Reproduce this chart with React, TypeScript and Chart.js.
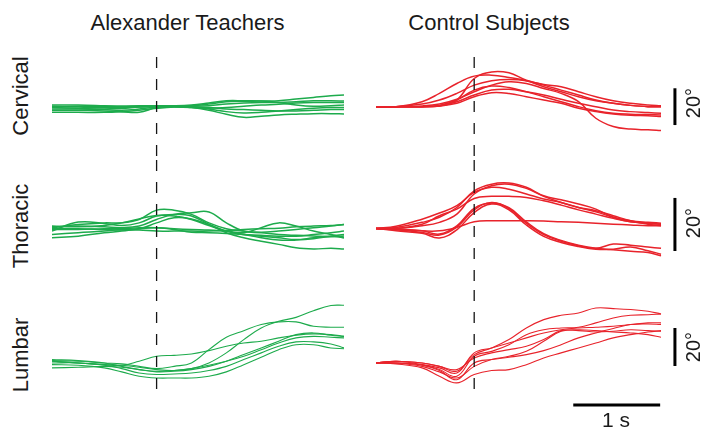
import React, { useEffect, useRef } from "react";
import { Chart, registerables } from "chart.js";

Chart.register(...registerables);

// time (s) relative to the event marker
const leftTimes = [-1.2, -0.9, -0.6, -0.4, -0.2, 0, 0.2, 0.4, 0.6, 0.8, 1.0, 1.2, 1.4, 1.6, 1.8, 2.0, 2.15];
const rightTimes = [-1.13, -0.9, -0.6, -0.4, -0.2, 0, 0.2, 0.4, 0.6, 0.8, 1.0, 1.2, 1.4, 1.6, 1.8, 2.0, 2.15];

// angles (degrees) relative to start
const alexCervical = [
  [0.9, 0.9, 0.5, 0.2, 0.5, 0.5, 0.5, 0.5, 1.4, 2.7, 2.9, 3.1, 3.2, 4.1, 5.0, 5.9, 6.3],
  [0.2, -0.2, -0.5, -0.5, -0.2, 0.2, 0.2, 0.2, 0.5, 1.4, 2.0, 2.3, 2.3, 2.7, 3.2, 3.2, 3.1],
  [-0.5, -0.9, -1.3, -0.9, -0.2, 0.2, -0.2, -0.5, -0.9, -0.5, 0.2, 0.9, 1.3, 2.0, 2.3, 2.3, 2.3],
  [-1.3, -1.3, -1.6, -2.0, -1.3, -0.2, 0.2, -0.2, -1.3, -2.7, -3.4, -3.1, -2.3, -1.6, -0.9, -0.5, -0.5],
  [-2.0, -2.0, -2.3, -2.7, -3.1, -0.5, 0.2, -0.5, -2.0, -4.1, -5.8, -5.2, -4.5, -4.1, -3.8, -3.8, -4.0],
  [-3.1, -3.1, -3.1, -2.7, -2.0, -0.9, -0.2, -0.2, -0.5, -1.3, -1.6, -2.0, -2.3, -2.3, -2.0, -1.6, -1.6],
  [-0.2, 0.2, 0.2, 0.2, 0.2, 0.5, 0.5, 0.9, 2.0, 3.2, 3.2, 3.1, 2.3, 0.9, 0.2, 0.5, 0.9],
];
const controlCervical = [
  [0, 0, 2.7, 7.2, 12.6, 16.6, 17.1, 15.9, 14.1, 10.8, 8.1, 5.4, 3.2, 1.8, 0.7, 0, 0],
  [0, 0, 0, 0.4, 3.6, 15.3, 18.9, 18.4, 14.4, 12.1, 10.8, 8.1, 5.4, 3.2, 1.8, 0.9, 0.5],
  [0, 0, 1.4, 3.6, 7.2, 11.7, 14.1, 14.8, 14.1, 11.7, 9.0, 6.3, 3.6, 1.8, 0.7, 0, 0],
  [0, 0, 0, 0.5, 2.7, 6.3, 9.0, 9.4, 8.1, 6.3, 4.0, 1.8, 0, -1.8, -2.7, -3.2, -3.6],
  [0, 0, 0, 0.4, 1.8, 5.4, 7.6, 7.2, 5.4, 3.6, 1.8, -0.9, -2.7, -4.0, -4.7, -5.0, -5.4],
  [0, 0, 0.4, 1.4, 4.0, 8.1, 11.7, 13.5, 12.6, 9.9, 7.2, 2.7, -6.3, -10.8, -12.2, -12.6, -13.0],
  [0, 0, 0, 0.7, 3.6, 9.0, 11.2, 10.4, 8.1, 5.4, 2.7, 0, -2.2, -3.6, -4.1, -4.3, -4.5],
];
const alexThoracic = [
  [0.3, 1.5, 2.1, 2.1, 3.4, 6.9, 6.9, 5.3, 2.1, -0.1, -1.0, -1.4, -1.0, -0.4, 0.3, 0.9, 1.5],
  [-1.0, 2.4, 1.9, 1.1, 2.1, 4.7, 5.3, 4.7, 1.5, -1.6, -3.5, -4.8, -6.0, -7.3, -7.7, -7.5, -7.7],
  [0.6, 0.9, 0.6, 0.3, 0.9, 3.4, 5.3, 5.9, 6.2, 2.1, -1.0, -1.6, -2.3, -2.6, -2.8, -3.1, -2.8],
  [-0.4, -0.4, -0.1, -0.1, 0.3, 0.3, -0.1, -0.4, -0.6, -1.0, -1.6, 0.3, 2.1, 0.9, -1.0, -2.3, -3.5],
  [-2.3, -1.6, -1.0, -0.4, -0.1, 2.1, 4.0, 3.6, 1.5, -1.0, -2.3, -2.9, -3.5, -4.2, -3.5, -2.9, -3.5],
  [-0.1, -0.1, -0.4, -0.6, -0.6, -1.0, -1.0, -1.0, -1.0, -0.8, -0.4, -0.1, 0.1, 0.6, 0.9, 1.1, 1.5],
  [-3.5, -2.9, -1.6, -1.0, -0.1, 0.3, -0.4, -1.4, -1.6, -1.9, -2.3, -2.6, -2.9, -2.9, -2.3, -1.6, -1.0],
  [0.9, 0.6, 1.1, 2.1, 3.6, 4.9, 4.7, 3.4, 1.1, -1.0, -2.3, -3.5, -4.4, -4.4, -3.9, -2.9, -2.3],
];
const controlThoracic = [
  [0, 0.4, 2.3, 4.2, 7.9, 14.2, 16.7, 17.1, 15.5, 12.3, 10.8, 9.2, 7.3, 4.2, 2.5, 2.0, 1.6],
  [0, 0, 1.0, 2.3, 5.4, 13.0, 16.1, 16.7, 15.1, 12.1, 9.8, 7.9, 6.7, 4.8, 2.9, 1.6, 1.0],
  [0, 0, 1.6, 4.8, 7.3, 11.3, 12.1, 12.1, 11.7, 10.4, 8.8, 7.0, 5.4, 3.8, 2.5, 2.0, 1.6],
  [0, -0.3, -0.9, -0.9, 0.4, 2.5, 2.9, 2.9, 2.9, 2.8, 2.5, 2.3, 2.0, 1.6, 1.3, 1.0, 1.0],
  [0, -0.5, -1.5, -2.5, 0.5, 7.0, 9.8, 7.5, 2.0, -2.3, -4.8, -6.5, -7.5, -5.9, -6.3, -7.0, -7.5],
  [0, -0.9, -1.8, -3.6, -0.5, 6.0, 9.2, 7.0, 1.3, -3.0, -5.3, -6.8, -7.8, -7.8, -7.0, -8.4, -9.7],
  [0, -0.3, -0.9, -2.1, 1.0, 7.6, 9.6, 7.8, 2.5, -2.0, -4.5, -6.3, -7.5, -8.0, -8.6, -9.1, -10.3],
  [0, 0.8, 3.5, 5.8, 8.6, 13.6, 15.5, 14.8, 13.0, 11.1, 9.8, 7.9, 6.3, 4.2, 2.9, 2.3, 2.0],
];
const alexLumbar = [
  [0.9, 0, -0.9, -1.2, -2.3, -3.5, -4.0, -3.0, 0, 5.3, 12.3, 18.4, 21.9, 24.0, 27.5, 30.2, 30.4],
  [1.2, 0.9, 0, -0.5, -1.8, -3.0, -1.8, 0, 7.0, 13.5, 17.0, 20.2, 21.6, 21.6, 19.3, 18.8, 18.8],
  [0, 0, -0.9, -1.2, 0.9, 3.5, 4.0, 4.7, 6.5, 8.8, 10.5, 11.4, 13.2, 14.6, 15.3, 14.9, 14.0],
  [1.8, 1.2, 0, -1.8, -3.5, -4.7, -4.4, -3.5, -1.8, 0.9, 4.4, 7.9, 11.4, 14.9, 15.8, 14.6, 14.0],
  [-0.9, -1.2, -2.6, -4.7, -7.0, -7.9, -7.9, -7.9, -7.0, -4.7, -0.9, 3.0, 7.0, 9.6, 9.6, 7.9, 7.5],
  [0.9, 0, -1.2, -3.0, -5.3, -6.1, -5.8, -5.3, -4.0, -1.8, 1.8, 5.3, 8.8, 11.1, 11.1, 10.0, 7.9],
  [-2.6, -2.3, -1.8, -2.3, -3.5, -4.4, -4.0, -3.0, -1.2, 0.9, 3.5, 7.0, 10.5, 13.2, 14.0, 13.5, 13.2],
];
const controlLumbar = [
  [0, 0.9, 0, -1.8, -4.4, 4.4, 7.9, 12.3, 18.4, 22.8, 25.1, 26.3, 28.9, 28.6, 28.1, 27.2, 25.8],
  [0, 0.9, -0.9, -3.5, -7.0, 3.5, 6.1, 9.6, 14.9, 17.5, 18.4, 18.8, 21.1, 23.7, 25.1, 25.4, 25.8],
  [0, 0, -0.9, -2.6, -5.3, 5.3, 7.9, 10.5, 13.2, 15.8, 17.5, 18.4, 18.8, 19.3, 20.2, 21.1, 21.1],
  [0, -0.5, -2.6, -7.0, -10.5, -6.1, -4.0, -3.5, -0.9, 2.6, 5.3, 7.9, 10.5, 13.2, 14.9, 16.3, 17.0],
  [0, 0, -1.8, -4.7, -7.9, -1.8, 1.8, 3.5, 6.1, 11.4, 16.7, 17.5, 17.0, 16.3, 15.8, 14.9, 13.5],
  [0, 0.9, 0, -1.8, -3.5, 2.6, 5.3, 7.0, 8.8, 12.3, 17.0, 17.0, 16.3, 16.7, 17.5, 17.0, 16.7],
  [0, 0, -1.2, -4.0, -8.8, 0, 1.8, 3.0, 4.4, 6.5, 9.6, 13.2, 15.8, 18.1, 20.2, 20.5, 20.2],
];

// axis ranges per row (degrees)
const cervicalRange = [-29, 27];
const thoracicRange = [-23.2, 25.8];
const lumbarRange = [-37.4, 38.4];
// event marker extent per row (degrees)
const cervicalMarker = [-29, 27];
const thoracicMarker = [-23.2, 25.8];
const lumbarMarker = [-19.5, 38.4];
// 20° scale bars per row (degrees), at time barTime
const barTime = 2.31;
const cervicalBar = [-10, 10];
const thoracicBar = [-8.5, 11.5];
const lumbarBar = [-1.6, 18.4];
// 1 s time scale bar
const timeBar = [1.14, 2.14];
const timeBarLevel = -22.1;

const GREEN = "#1dab4c";
const RED = "#e8232b";
const INK = "#1a1a1a";
const FONT = '"Liberation Sans", Arial, Helvetica, sans-serif';

type Extra = { points: { x: number; y: number }[]; width: number };

function Panel(props: {
  left: number; top: number; width: number; height: number;
  times: number[]; xMin: number; xMax: number; range: number[];
  series: number[][]; color: string; lineWidth: number; marker: number[];
  extras?: Extra[];
}) {
  const ref = useRef<HTMLCanvasElement | null>(null);
  useEffect(() => {
    if (!ref.current) return;
    const datasets: any[] = [
      {
        data: [{ x: 0, y: props.marker[1] }, { x: 0, y: props.marker[0] }],
        borderColor: "#151515", borderWidth: 1.3, borderDash: [11, 11], tension: 0,
      },
      ...(props.extras || []).map((e) => ({
        data: e.points, borderColor: "#000", borderWidth: e.width, tension: 0, borderCapStyle: "butt",
      })),
      ...props.series.map((vals) => ({
        data: vals.map((v, i) => ({ x: props.times[i], y: v })),
        borderColor: props.color, borderWidth: props.lineWidth, tension: 0.4,
      })),
    ];
    const chart = new Chart(ref.current, {
      type: "line",
      data: { datasets },
      options: {
        responsive: false,
        animation: false,
        events: [],
        layout: { padding: 0 },
        elements: { point: { radius: 0 } },
        plugins: { legend: { display: false }, tooltip: { enabled: false } },
        scales: {
          x: { type: "linear", display: false, min: props.xMin, max: props.xMax },
          y: { type: "linear", display: false, min: props.range[0], max: props.range[1] },
        },
      },
    });
    return () => chart.destroy();
  }, []);
  return (
    <canvas
      ref={ref}
      width={props.width}
      height={props.height}
      style={{ position: "absolute", left: props.left, top: props.top, display: "block" }}
    />
  );
}

function Label(props: { text: string; x: number; y: number; size: number; rotate?: boolean }) {
  return (
    <div
      style={{
        position: "absolute", left: props.x, top: props.y,
        transform: `translate(-50%, -50%)${props.rotate ? " rotate(-90deg)" : ""}`,
        fontFamily: FONT, fontSize: props.size, color: INK, whiteSpace: "nowrap", lineHeight: "normal",
      }}
    >
      {props.text}
    </div>
  );
}

const bar = (r: number[]): Extra => ({ points: [{ x: barTime, y: r[0] }, { x: barTime, y: r[1] }], width: 3 });

export default function App() {
  const L = { left: 52, width: 292, times: leftTimes, xMin: -1.2, xMax: 2.15, color: GREEN };
  const R = { left: 376, width: 325, times: rightTimes, xMin: -1.13, xMax: 2.61, color: RED };
  return (
    <div style={{ position: "fixed", left: 0, top: 0, width: 701, height: 434, background: "#fff", overflow: "hidden" }}>
      <Panel {...L} top={57} height={103} range={cervicalRange} series={alexCervical} lineWidth={1.5} marker={cervicalMarker} />
      <Panel {...L} top={160} height={130} range={thoracicRange} series={alexThoracic} lineWidth={1.5} marker={thoracicMarker} />
      <Panel {...L} top={290} height={144} range={lumbarRange} series={alexLumbar} lineWidth={1.1} marker={lumbarMarker} />
      <Panel {...R} top={57} height={103} range={cervicalRange} series={controlCervical} lineWidth={1.5} marker={cervicalMarker} extras={[bar(cervicalBar)]} />
      <Panel {...R} top={160} height={130} range={thoracicRange} series={controlThoracic} lineWidth={1.5} marker={thoracicMarker} extras={[bar(thoracicBar)]} />
      <Panel {...R} top={290} height={144} range={lumbarRange} series={controlLumbar} lineWidth={1.1} marker={lumbarMarker}
        extras={[bar(lumbarBar), { points: [{ x: timeBar[0], y: timeBarLevel }, { x: timeBar[1], y: timeBarLevel }], width: 3 }]} />

      <Label text="Alexander Teachers" x={187.5} y={23} size={22} />
      <Label text="Control Subjects" x={489} y={23} size={22} />
      <Label text="Cervical" x={20.5} y={96} size={22} rotate />
      <Label text="Thoracic" x={20.5} y={226} size={22} rotate />
      <Label text="Lumbar" x={20.5} y={355} size={22} rotate />
      <Label text="20°" x={692.5} y={102.5} size={20} rotate />
      <Label text="20°" x={692.5} y={223} size={20} rotate />
      <Label text="20°" x={692.5} y={347} size={20} rotate />
      <Label text="1 s" x={616} y={420} size={21} />
    </div>
  );
}
